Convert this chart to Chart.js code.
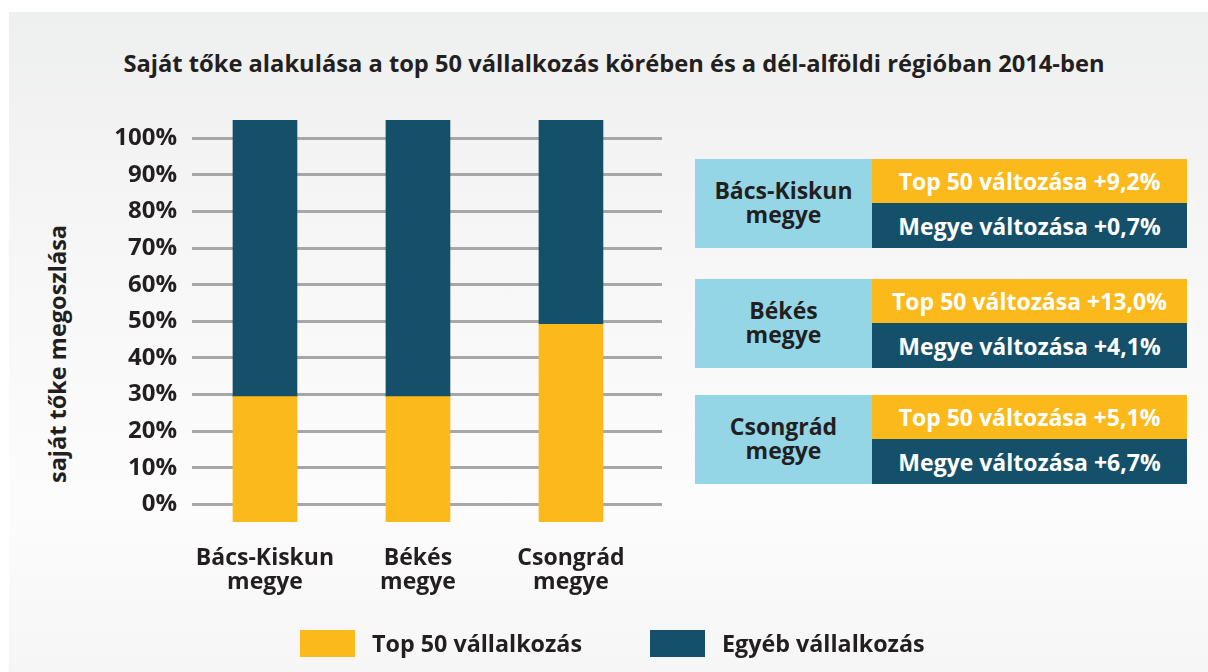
<!DOCTYPE html>
<html>
<head>
<meta charset="utf-8">
<script src="https://cdn.jsdelivr.net/npm/chart.js@4.4.1/dist/chart.umd.min.js"></script>
<style>
html,body{margin:0;padding:0;width:1208px;height:672px;overflow:hidden;background:#fff;font-family:"Open Sans",sans-serif;color:#231f20;}
#panel{position:absolute;left:9px;top:12px;width:1199px;height:660px;background:linear-gradient(#eeefef 0%,#f3f3f3 20%,#f8f8f8 45%,#fcfcfc 75%,#f6f6f6 100%);}
#c{position:absolute;left:0;top:0;}
#title{position:absolute;left:0;width:1228px;top:49px;text-align:center;font-weight:700;font-size:23.7px;line-height:28px;white-space:nowrap;}
#ytitle{position:absolute;left:57px;top:354px;transform:translate(-50%,-50%) rotate(-90deg);font-weight:700;font-size:23.5px;line-height:26px;white-space:nowrap;}
.box{position:absolute;left:695px;width:492px;height:89px;}
.name{position:absolute;left:0;top:0;width:177px;height:89px;background:#94d6e5;display:flex;align-items:center;justify-content:center;text-align:center;font-weight:700;font-size:23px;line-height:24px;padding-bottom:3px;box-sizing:border-box;}
.chg{position:absolute;left:177px;width:315px;display:flex;align-items:center;justify-content:center;color:#fff;font-weight:700;font-size:23px;white-space:nowrap;}
.legend{position:absolute;top:630px;height:27px;}
.lbox{position:absolute;top:0;width:55px;height:27px;}
.ltxt{position:absolute;top:0;font-weight:700;font-size:23.3px;line-height:27px;white-space:nowrap;}
</style>
</head>
<body>
<div id="panel"></div>
<div id="title"></div>
<div id="ytitle"></div>
<canvas id="c" width="1208" height="672"></canvas>
<div id="boxes"></div>
<div id="legend"></div>
<script>
// ---- data ----
const categories = [['Bács-Kiskun', 'megye'], ['Békés', 'megye'], ['Csongrád', 'megye']];
const top50Share = [31.2, 31.2, 49.2];
const otherShare = [68.8, 68.8, 50.8];
const seriesNames = ['Top 50 vállalkozás', 'Egyéb vállalkozás'];
const yTickValues = [0, 10, 20, 30, 40, 50, 60, 70, 80, 90, 100];
const countyNames = ['Bács-Kiskun megye', 'Békés megye', 'Csongrád megye'];
const top50Change = ['+9,2%', '+13,0%', '+5,1%'];
const countyChange = ['+0,7%', '+4,1%', '+6,7%'];
const chartTitle = 'Saját tőke alakulása a top 50 vállalkozás körében és a dél-alföldi régióban 2014-ben';
const yAxisTitle = 'saját tőke megoszlása';

// ---- style ----
const YELLOW = '#fcb91c';
const DARK = '#14506a';
const TEXT = '#231f20';

document.getElementById('title').textContent = chartTitle;
document.getElementById('ytitle').textContent = yAxisTitle;

// side boxes
const boxTops = [159, 279, 395];
const boxesEl = document.getElementById('boxes');
countyNames.forEach((n, i) => {
  const b = document.createElement('div');
  b.className = 'box';
  b.style.top = boxTops[i] + 'px';
  const parts = n.split(' ');
  b.innerHTML =
    '<div class="name"><div>' + parts[0] + '<br>' + parts[1] + '</div></div>' +
    '<div class="chg" style="top:0;height:44px;background:' + YELLOW + '">Top 50 változása ' + top50Change[i] + '</div>' +
    '<div class="chg" style="top:44px;height:45px;background:' + DARK + '">Megye változása ' + countyChange[i] + '</div>';
  boxesEl.appendChild(b);
});

// legend
const legEl = document.getElementById('legend');
const legX = [300, 650];
const legCols = [YELLOW, DARK];
seriesNames.forEach((s, i) => {
  const l = document.createElement('div');
  l.className = 'legend';
  l.style.left = legX[i] + 'px';
  l.innerHTML = '<div class="lbox" style="left:0;background:' + legCols[i] + '"></div>' +
    '<div class="ltxt" style="left:72px">' + s + '</div>';
  legEl.appendChild(l);
});

const font = { family: '"Open Sans", sans-serif', weight: '700', size: 23 };

new Chart(document.getElementById('c'), {
  type: 'bar',
  data: {
    datasets: [
      {
        label: seriesNames[0],
        data: top50Share.map((v, i) => ({ x: i, y: v })),
        backgroundColor: YELLOW,
        yAxisID: 'yBar',
        barThickness: 64,
        borderWidth: 0
      },
      {
        label: seriesNames[1],
        data: otherShare.map((v, i) => ({ x: i, y: v })),
        backgroundColor: DARK,
        yAxisID: 'yBar',
        barThickness: 64,
        borderWidth: 0
      }
    ]
  },
  options: {
    responsive: false,
    animation: false,
    layout: { padding: { left: 20, right: 546, top: 120, bottom: 70 } },
    plugins: { legend: { display: false }, title: { display: false }, tooltip: { enabled: false } },
    scales: {
      x: {
        type: 'linear',
        stacked: true,
        offset: false,
        min: -0.477,
        max: 2.595,
        grid: { display: false, drawTicks: false, offset: false },
        border: { display: false },
        afterBuildTicks: (s) => { s.ticks = categories.map((c, i) => ({ value: i })); },
        afterFit: (s) => { s.height = 80; },
        ticks: {
          autoSkip: false,
          maxRotation: 0,
          padding: 24,
          color: TEXT,
          font: Object.assign({}, font, { lineHeight: 1.05 }),
          callback: (v) => categories[v]
        }
      },
      y: {
        position: 'left',
        min: -4.84,
        max: 105,
        grid: { color: '#a7a7a9', lineWidth: 3, drawTicks: false },
        border: { display: false },
        afterBuildTicks: (s) => { s.ticks = yTickValues.map(v => ({ value: v })); },
        afterFit: (s) => { s.width = 172; },
        ticks: {
          padding: 15,
          color: TEXT,
          font: Object.assign({}, font, { size: 24 }),
          callback: (v) => v + '%'
        }
      },
      yBar: {
        display: false,
        stacked: true,
        min: 0,
        max: 100
      }
    }
  }
});
</script>
</body>
</html>
